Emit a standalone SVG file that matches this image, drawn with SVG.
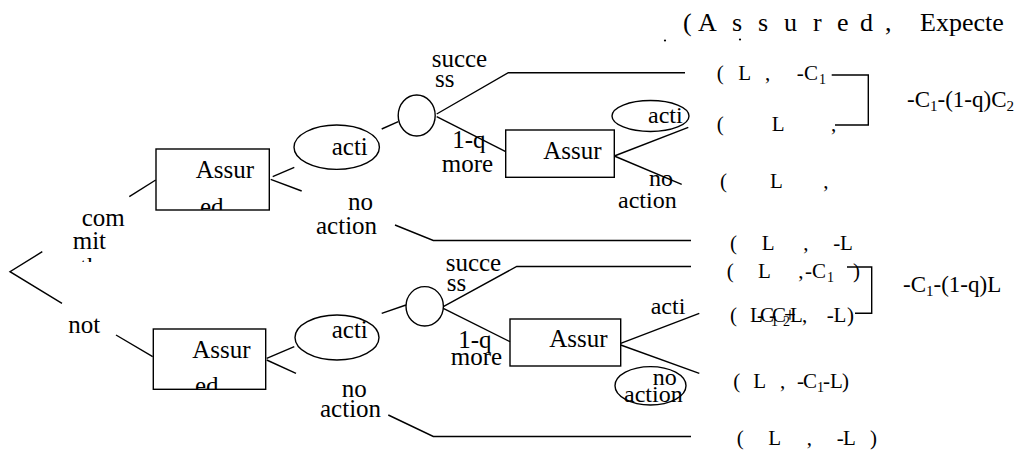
<svg xmlns="http://www.w3.org/2000/svg" width="1020" height="454" viewBox="0 0 1020 454" font-family="Liberation Serif, Times New Roman, DejaVu Serif, serif">
<style>
.ln{fill:none;stroke:#000;stroke-width:1.4}
.nd{fill:none;stroke:#000;stroke-width:1.4}
text{fill:#000}
.t{font-size:25px}
.r{font-size:24px}
.p{font-size:21px}
.h{font-size:26px}
.f{font-size:23px}
.s{font-size:14px}
.s2{font-size:15px}
</style>
<defs>
<clipPath id="cA1"><rect x="156" y="149" width="113.3" height="61"/></clipPath>
<clipPath id="cA2"><rect x="153.3" y="329" width="112.4" height="60.3"/></clipPath>
<clipPath id="cA3"><rect x="505.7" y="130" width="108.6" height="47.3"/></clipPath>
<clipPath id="cA4"><rect x="510" y="319" width="110.7" height="47"/></clipPath>
<clipPath id="cCom"><rect x="55" y="195" width="90" height="67"/></clipPath>
</defs>
<rect width="1020" height="454" fill="#fff"/>

<!-- column header -->
<g id="header">
<text class="h" x="683 698 732 758 784 813 837 860 885" y="31">(Assured,</text>
<text class="h" x="920" y="31">Expecte</text>
<circle cx="665" cy="40.5" r="1.1" fill="#000"/>
<circle cx="740" cy="39.5" r="1.1" fill="#000"/>
</g>

<!-- branches -->
<g id="connectors" class="ln">
<path d="M42.3 251.7 L10 271.7 L62 303.3"/>
<path d="M129.3 196.7 L155.7 180"/>
<path d="M116 335 L152.7 356.7"/>
<!-- upper subtree -->
<path d="M272.7 176.7 L294.3 167.3"/>
<path d="M270.7 179.3 L301.7 191"/>
<path d="M381.7 129 L398.3 121.7"/>
<path d="M436.7 114 L508.3 72.7 H685"/>
<path d="M436.7 116.7 L505.7 151.7"/>
<path d="M614.3 156 L688.3 127.3"/>
<path d="M614.3 156 L681.7 184.3"/>
<path d="M395 225 L433.3 240.5 H691"/>
<!-- lower subtree -->
<path d="M266.7 358.3 L294.3 346.7"/>
<path d="M266.7 360 L296 373.3"/>
<path d="M381.7 313.3 L406 305"/>
<path d="M443.3 306.7 L516.7 266.5 H691"/>
<path d="M443.3 308.3 L510 341.7"/>
<path d="M620.7 343.3 L699.3 313.3"/>
<path d="M620.7 345 L699.3 373.3"/>
<path d="M388.3 415 L433.3 436.5 H691"/>
<!-- brackets joining payoff rows -->
<path d="M831.7 75 H868.3 V125 H835"/>
<path d="M847 267 H871.7 V313.3 H855"/>
</g>

<!-- root choice labels -->
<g id="root-labels">
<g clip-path="url(#cCom)">
<text class="t" x="81.7" y="225.7">com</text>
<text class="t" x="72.7" y="249.3">mit</text>
<text class="t" x="80" y="275">the</text>
</g>
<text class="t" x="68.3" y="333.3">not</text>
</g>

<g id="assured-upper">
<rect class="nd" x="156" y="149" width="113.3" height="61"/>
<g clip-path="url(#cA1)">
<text class="t" x="195.7" y="178">Assur</text>
<text class="t" x="200" y="215">ed</text>
</g>
</g>

<g id="assured-lower">
<rect class="nd" x="153.3" y="329" width="112.4" height="60.3"/>
<g clip-path="url(#cA2)">
<text class="t" x="192.3" y="358.3">Assur</text>
<text class="t" x="195" y="394">ed</text>
</g>
</g>

<g id="action-upper">
<ellipse class="nd" cx="336.7" cy="147.2" rx="42.7" ry="22.2"/>
<text class="t" x="331.7" y="155">acti</text>
</g>
<g id="noaction-upper">
<text class="t" x="348" y="210">no</text>
<text class="t" x="316" y="234">action</text>
</g>

<g id="chance-upper">
<ellipse class="nd" cx="416.7" cy="115.5" rx="18.5" ry="20.5"/>
<text class="t" x="431.7" y="66.7">succe</text>
<text class="t" x="435" y="87.3">ss</text>
<text class="t" x="452.3" y="148.3">1-q</text>
<text class="t" x="441.7" y="171.7">more</text>
</g>

<g id="assured-upper-2">
<rect class="nd" x="505.7" y="130" width="108.6" height="47.3"/>
<g clip-path="url(#cA3)">
<text class="t" x="543.3" y="159.3">Assur</text>
</g>
</g>

<g id="action-upper-2">
<ellipse class="nd" cx="650.5" cy="116" rx="38.5" ry="15.5"/>
<text class="r" x="648" y="123.3">acti</text>
</g>
<g id="noaction-upper-2">
<text class="r" x="649" y="185.5">no</text>
<text class="r" x="618" y="208">action</text>
</g>

<g id="action-lower">
<ellipse class="nd" cx="337" cy="337.5" rx="42" ry="22.5"/>
<text class="t" x="331.7" y="338">acti</text>
</g>
<g id="noaction-lower">
<text class="t" x="341.7" y="396.7">no</text>
<text class="t" x="320" y="416.7">action</text>
</g>

<g id="chance-lower">
<ellipse class="nd" cx="424.7" cy="306.3" rx="18.7" ry="19.7"/>
<text class="t" x="445.7" y="270.7">succe</text>
<text class="t" x="446.7" y="290.7">ss</text>
<text class="t" x="458.3" y="347.7">1-q</text>
<text class="t" x="450.7" y="365">more</text>
</g>

<g id="assured-lower-2">
<rect class="nd" x="510" y="319" width="110.7" height="47"/>
<g clip-path="url(#cA4)">
<text class="t" x="549.3" y="346.7">Assur</text>
</g>
</g>

<g id="action-lower-2">
<text class="r" x="650.7" y="314">acti</text>
</g>
<g id="noaction-lower-2">
<ellipse class="nd" cx="650.5" cy="385.8" rx="35.5" ry="19.2"/>
<text class="r" x="652.7" y="385">no</text>
<text class="r" x="624" y="401.7">action</text>
</g>

<!-- payoff rows -->
<g id="payoffs">
<text class="p" x="716.7 738.3 765 796.7 804" y="80">(L,-C<tspan class="s" x="819" dy="4">1</tspan></text>
<text class="p" x="716.7 771.7 831" y="131">(L,</text>
<text class="p" x="720 770 823.3" y="187.5">(L,</text>
<text class="p" x="730 761.7 803.3 833.3 840" y="250">(L,-L</text>
<text class="p" x="726.7 758 798.3 805 812" y="278">(L,-C<tspan class="s" x="827" dy="4">1</tspan><tspan x="853" dy="-4">)</tspan></text>
<text class="p" y="321.7"><tspan x="730">(</tspan><tspan x="750">L</tspan><tspan x="757">-</tspan><tspan x="760">C</tspan><tspan class="s" x="771" dy="4">1</tspan><tspan x="769" dy="-4">-</tspan><tspan x="772">C</tspan><tspan class="s" x="783" dy="4">2</tspan><tspan x="784" dy="-4">+</tspan><tspan x="790">L</tspan><tspan x="802">,</tspan><tspan x="826.7">-</tspan><tspan x="833.5">L</tspan><tspan x="847">)</tspan></text>
<text class="p" y="388.3"><tspan x="733.3">(</tspan><tspan x="753.3">L</tspan><tspan x="780">,</tspan><tspan x="797">-</tspan><tspan x="803">C</tspan><tspan class="s" x="817" dy="4">1</tspan><tspan x="823" dy="-4">-</tspan><tspan x="830">L</tspan><tspan x="842">)</tspan></text>
<text class="p" x="736.7 768.3 806.7 836.7 843 870" y="445">(L,-L)</text>
</g>

<!-- expected values -->
<g id="expected">
<text class="f" x="907" y="107">-C<tspan class="s2" dy="4">1</tspan><tspan dy="-4">-(1-q)C</tspan><tspan class="s2" dy="4">2</tspan></text>
<text class="f" x="903" y="292">-C<tspan class="s2" dy="4">1</tspan><tspan dy="-4">-(1-q)L</tspan></text>
</g>
</svg>
